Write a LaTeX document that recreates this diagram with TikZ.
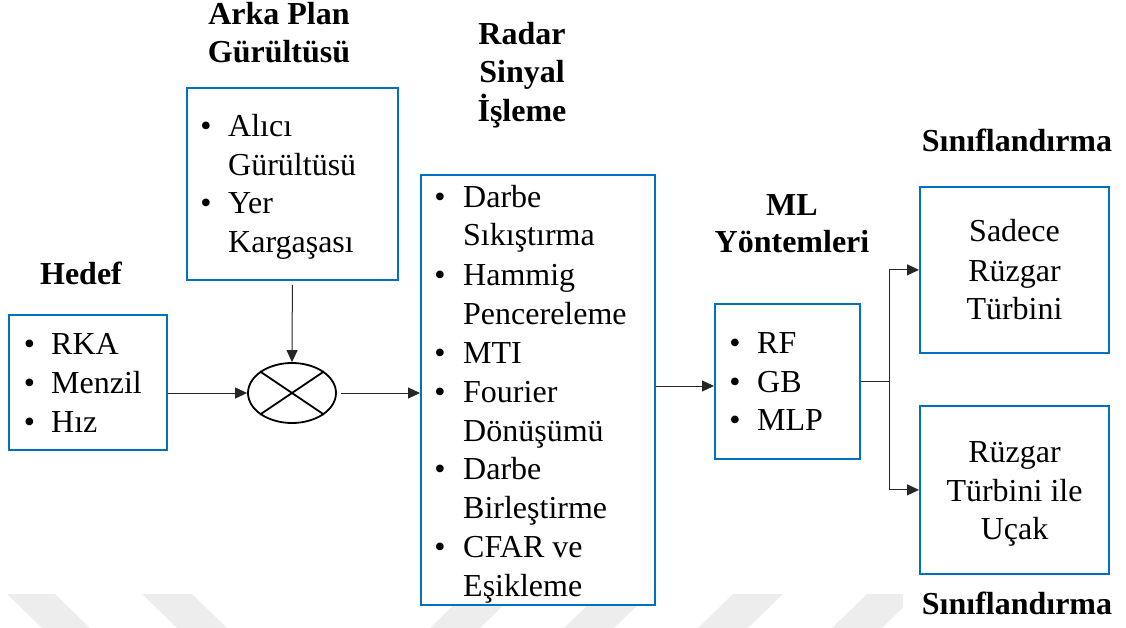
\documentclass[tikz,border=0pt]{standalone}
\usepackage{fontspec}
\setmainfont{Liberation Serif}
\usetikzlibrary{arrows.meta,shapes.geometric}
\definecolor{boxblue}{RGB}{0,112,192}
\definecolor{wm}{RGB}{237,237,237}
\begin{document}
\begin{tikzpicture}[x=1pt,y=-1pt,
  blk/.style={draw=boxblue, line width=1.8pt, fill=white, inner sep=0pt, anchor=north west},
  txt/.style={font=\fontsize{32}{39}\selectfont, inner sep=0pt, anchor=base west},
  bul/.style={font=\fontsize{32}{39}\selectfont, inner sep=0pt, anchor=base},
  ctr/.style={font=\fontsize{32}{39}\selectfont, inner sep=0pt, anchor=base},
  ttl/.style={font=\bfseries\fontsize{32}{39}\selectfont, inner sep=0pt, anchor=base},
  conn/.style={draw=black!85, line width=1pt},
  arr/.style={conn, -{Triangle[length=12pt,width=11pt]}}]
\useasboundingbox (0,0) rectangle (1126,628);
% watermark
\fill[wm] (7,594) -- (55,594) -- (90,628) -- (42,628) -- cycle;
\fill[wm] (142,594) -- (192,594) -- (227,628) -- (177,628) -- cycle;
\fill[wm] (465,594) -- (515,594) -- (480,628) -- (430,628) -- cycle;
\fill[wm] (599,594) -- (649,594) -- (614,628) -- (564,628) -- cycle;
\fill[wm] (733,594) -- (783,594) -- (748,628) -- (698,628) -- cycle;
\begin{scope}
\clip (0,0) rectangle (903,628);
\fill[wm] (867,594) -- (917,594) -- (882,628) -- (832,628) -- cycle;
\end{scope}
% boxes
\node[blk, minimum width=158, minimum height=135] (hedef) at (8,314) {};
\node[blk, minimum width=211, minimum height=192] (arka) at (186,87) {};
\node[blk, minimum width=234, minimum height=430] (radar) at (420,174) {};
\node[blk, minimum width=145, minimum height=155] (ml) at (714,303) {};
\node[blk, minimum width=189, minimum height=166] (top) at (919,186) {};
\node[blk, minimum width=189, minimum height=168] (bot) at (919,405) {};
\node[draw=black, line width=1.8pt, ellipse, minimum width=88, minimum height=60, inner sep=0pt] (mix) at (292,393) {};
\draw[line width=1.8pt] (mix.34) -- (mix.214);
\draw[line width=1.8pt] (mix.146) -- (mix.326);
% titles
\node[ttl] (thedef) at (81,284) {Hedef};
\node[ttl] (tarka1) at (279,25) {Arka Plan};
\node[ttl] (tarka2) at (279,63) {Gürültüsü};
\node[ttl] (trad1) at (522,45) {Radar};
\node[ttl] (trad2) at (522,83) {Sinyal};
\node[ttl] (trad3) at (522,122) {İşleme};
\node[ttl] (tml1) at (792,216) {ML};
\node[ttl] (tml2) at (792,253) {Yöntemleri};
\node[ttl] (tsin1) at (1017,152) {Sınıflandırma};
\node[ttl] (tsin2) at (1017,614) {Sınıflandırma};
% hedef items
\node[bul] (hb1) at (29.5,354) {•}; \node[txt] (ht1) at (51,354) {RKA};
\node[bul] (hb2) at (29.5,393) {•}; \node[txt] (ht2) at (51,393) {Menzil};
\node[bul] (hb3) at (29.5,432) {•}; \node[txt] (ht3) at (51,432) {Hız};
% arka items
\node[bul] (ab1) at (206,137) {•}; \node[txt] (at1) at (228,137) {Alıcı};
\node[txt] (at2) at (228,176) {Gürültüsü};
\node[bul] (ab3) at (206,214) {•}; \node[txt] (at3) at (228,214) {Yer};
\node[txt] (at4) at (228,253) {Kargaşası};
% radar items
\node[bul] (rb1) at (440,208) {•}; \node[txt] (rt1) at (463,208) {Darbe};
\node[txt] (rt2) at (463,246) {Sıkıştırma};
\node[bul] (rb3) at (440,285) {•}; \node[txt] (rt3) at (463,285) {Hammig};
\node[txt] (rt4) at (463,324) {Pencereleme};
\node[bul] (rb5) at (440,363) {•}; \node[txt] (rt5) at (463,363) {MTI};
\node[bul] (rb6) at (440,402) {•}; \node[txt] (rt6) at (463,402) {Fourier};
\node[txt] (rt7) at (463,441) {Dönüşümü};
\node[bul] (rb8) at (440,479) {•}; \node[txt] (rt8) at (463,479) {Darbe};
\node[txt] (rt9) at (463,518) {Birleştirme};
\node[bul] (rb10) at (440,557) {•}; \node[txt] (rt10) at (463,557) {CFAR ve};
\node[txt] (rt11) at (463,596) {Eşikleme};
% ml items
\node[bul] (mb1) at (735,353) {•}; \node[txt] (mt1) at (757,353) {RF};
\node[bul] (mb2) at (735,392) {•}; \node[txt] (mt2) at (757,392) {GB};
\node[bul] (mb3) at (735,430) {•}; \node[txt] (mt3) at (757,430) {MLP};
% class boxes
\node[ctr] (ct1) at (1014.5,242) {Sadece};
\node[ctr] (ct2) at (1014.5,281) {Rüzgar};
\node[ctr] (ct3) at (1014.5,319) {Türbini};
\node[ctr] (cb1) at (1014.5,462) {Rüzgar};
\node[ctr] (cb2) at (1014.5,501) {Türbini ile};
\node[ctr] (cb3) at (1014.5,539) {Uçak};
% connectors
\coordinate (rm) at (700,386);
\draw[arr, shorten <=4pt] (arka.south) -- (mix.north);
\draw[arr] (hedef.east |- mix.west) -- (mix.west);
\draw[arr, shorten <=4pt] (mix.east) -- (radar.west |- mix.east);
\draw[arr] (radar.east |- rm) -- (ml.west |- rm);
\draw[conn] (ml.east) -- ++(29,0) coordinate (br);
\draw[arr] (br) |- (top.west);
\draw[arr] (br) |- (bot.west);
\end{tikzpicture}
\end{document}
